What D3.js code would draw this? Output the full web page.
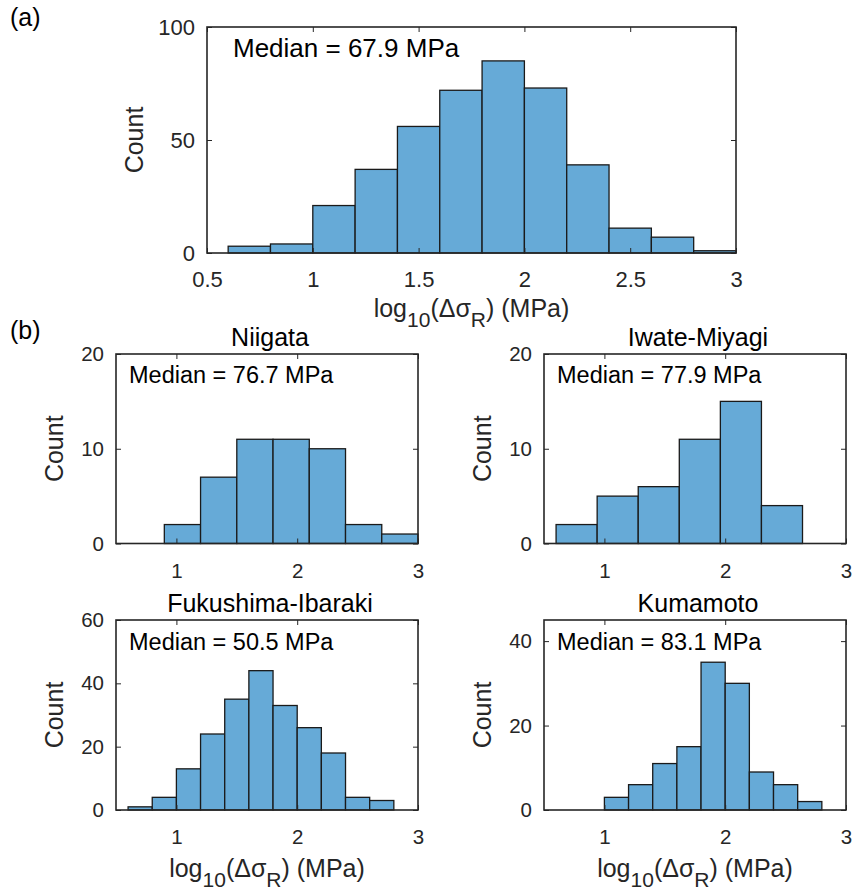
<!DOCTYPE html>
<html>
<head>
<meta charset="utf-8">
<script src="https://cdn.jsdelivr.net/npm/d3@7"></script>
<style>
  html, body { margin: 0; padding: 0; background: #ffffff; }
  svg { display: block; }
  text { font-family: "Liberation Sans", Arial, Helvetica, sans-serif; }
</style>
</head>
<body>
<svg id="chart" width="853" height="895"></svg>
<script>
// ---------------- data ----------------
const allEdges   = [0.6, 0.8, 1.0, 1.2, 1.4, 1.6, 1.8, 2.0, 2.2, 2.4, 2.6, 2.8, 3.0];
const allCounts  = [3, 4, 21, 37, 56, 72, 85, 73, 39, 11, 7, 1];

const niigataEdges  = [0.9, 1.2, 1.5, 1.8, 2.1, 2.4, 2.7, 3.0];
const niigataCounts = [2, 7, 11, 11, 10, 2, 1];

const iwateEdges  = [0.6, 0.94, 1.28, 1.62, 1.96, 2.30, 2.64];
const iwateCounts = [2, 5, 6, 11, 15, 4];

const fukuEdges  = [0.6, 0.8, 1.0, 1.2, 1.4, 1.6, 1.8, 2.0, 2.2, 2.4, 2.6, 2.8];
const fukuCounts = [1, 4, 13, 24, 35, 44, 33, 26, 18, 4, 3];

const kumaEdges  = [1.0, 1.2, 1.4, 1.6, 1.8, 2.0, 2.2, 2.4, 2.6, 2.8];
const kumaCounts = [3, 6, 11, 15, 35, 30, 9, 6, 2];

const topXTicks = [0.5, 1, 1.5, 2, 2.5, 3];
const topXTickLabels = ["0.5", "1", "1.5", "2", "2.5", "3"];
const subXTicks = [1, 2, 3];
const xDomain = [0.5, 3];

const titles  = ["Niigata", "Iwate-Miyagi", "Fukushima-Ibaraki", "Kumamoto"];
const medians = ["Median = 67.9 MPa", "Median = 76.7 MPa", "Median = 77.9 MPa", "Median = 50.5 MPa", "Median = 83.1 MPa"];
const panelLabels = ["(a)", "(b)"];

// ---------------- drawing ----------------
const svg = d3.select("#chart");
const AX = "#262626";
const BAR = "#66AAD7";

function panel(opt) {
  const {left, right, top, bottom, edges, counts, yMax, yTicks, xTicks, xTickLabels,
         tickFs, medianText, medianFs, medianDx, medianDy, title, titleFs, ylabelDx, xlabelDy, labelFs} = opt;
  const g = svg.append("g");
  const x = d3.scaleLinear().domain(xDomain).range([left, right]);
  const y = d3.scaleLinear().domain([0, yMax]).range([bottom, top]);

  const bins = counts.map((c, i) => ({x0: edges[i], x1: edges[i + 1], c}));
  g.selectAll("rect.bar").data(bins).enter().append("rect")
    .attr("class", "bar")
    .attr("x", d => x(d.x0))
    .attr("y", d => y(d.c))
    .attr("width", d => x(d.x1) - x(d.x0))
    .attr("height", d => y(0) - y(d.c))
    .attr("fill", BAR)
    .attr("stroke", "#1a1a1a")
    .attr("stroke-width", 1.3);

  const styleAxis = sel => {
    sel.select(".domain").remove();
    sel.selectAll(".tick line").attr("stroke", AX).attr("stroke-width", 1);
    sel.selectAll(".tick text").attr("fill", AX).style("font-size", tickFs + "px")
      .style("font-family", '"Liberation Sans", Arial, sans-serif');
  };

  const xb = g.append("g").attr("transform", `translate(0,${bottom})`)
    .call(d3.axisBottom(x).tickValues(xTicks)
      .tickFormat((d, i) => xTickLabels ? xTickLabels[i] : d3.format("d")(d))
      .tickSizeInner(-5).tickSizeOuter(0).tickPadding(34 - 0.71 * tickFs));
  styleAxis(xb);
  const xt = g.append("g").attr("transform", `translate(0,${top})`)
    .call(d3.axisTop(x).tickValues(xTicks).tickFormat("").tickSizeInner(-5).tickSizeOuter(0));
  styleAxis(xt);
  const yl = g.append("g").attr("transform", `translate(${left},0)`)
    .call(d3.axisLeft(y).tickValues(yTicks).tickFormat(d3.format("d"))
      .tickSizeInner(-5).tickSizeOuter(0).tickPadding(12));
  styleAxis(yl);
  const yr = g.append("g").attr("transform", `translate(${right},0)`)
    .call(d3.axisRight(y).tickValues(yTicks).tickFormat("").tickSizeInner(-5).tickSizeOuter(0));
  styleAxis(yr);

  g.append("rect")
    .attr("x", left).attr("y", top)
    .attr("width", right - left).attr("height", bottom - top)
    .attr("fill", "none").attr("stroke", AX).attr("stroke-width", 1.6);

  g.append("text")
    .attr("x", left + medianDx).attr("y", top + medianDy)
    .attr("fill", "#000").style("font-size", medianFs + "px")
    .text(medianText);

  if (title) {
    g.append("text")
      .attr("x", (left + right) / 2 + 3).attr("y", top - 8)
      .attr("text-anchor", "middle").attr("fill", "#000")
      .style("font-size", titleFs + "px")
      .text(title);
  }

  // y label
  g.append("text")
    .attr("transform", `translate(${left - ylabelDx},${(top + bottom) / 2}) rotate(-90)`)
    .attr("text-anchor", "middle").attr("fill", AX)
    .style("font-size", labelFs + "px")
    .text("Count");

  // x label
  if (xlabelDy) {
    const t = g.append("text")
      .attr("x", (left + right) / 2).attr("y", bottom + xlabelDy)
      .attr("text-anchor", "middle").attr("fill", AX)
      .style("font-size", labelFs + "px");
    const subFs = Math.round(labelFs * 0.84);
    t.append("tspan").text("log");
    t.append("tspan").attr("dy", 10).style("font-size", subFs + "px").text("10");
    t.append("tspan").attr("dy", -10).text("(Δσ");
    t.append("tspan").attr("dy", 10).style("font-size", subFs + "px").text("R");
    t.append("tspan").attr("dy", -10).text(") (MPa)");
  }
}

// (a) all
panel({left: 207, right: 736, top: 27, bottom: 253, edges: allEdges, counts: allCounts,
  yMax: 100, yTicks: [0, 50, 100], xTicks: topXTicks, xTickLabels: topXTickLabels,
  tickFs: 22, medianText: medians[0], medianFs: 26, medianDx: 26, medianDy: 30,
  title: null, ylabelDx: 64, xlabelDy: 64, labelFs: 25});

// (b) subplots
panel({left: 116, right: 418, top: 354, bottom: 543.5, edges: niigataEdges, counts: niigataCounts,
  yMax: 20, yTicks: [0, 10, 20], xTicks: subXTicks, xTickLabels: null,
  tickFs: 20.5, medianText: medians[1], medianFs: 23.5, medianDx: 13, medianDy: 29,
  title: titles[0], titleFs: 25, ylabelDx: 53, xlabelDy: null, labelFs: 25});

panel({left: 544, right: 846, top: 354, bottom: 543.5, edges: iwateEdges, counts: iwateCounts,
  yMax: 20, yTicks: [0, 10, 20], xTicks: subXTicks, xTickLabels: null,
  tickFs: 20.5, medianText: medians[2], medianFs: 23.5, medianDx: 13, medianDy: 29,
  title: titles[1], titleFs: 25, ylabelDx: 53, xlabelDy: null, labelFs: 25});

panel({left: 116, right: 418, top: 620, bottom: 810, edges: fukuEdges, counts: fukuCounts,
  yMax: 60, yTicks: [0, 20, 40, 60], xTicks: subXTicks, xTickLabels: null,
  tickFs: 20.5, medianText: medians[3], medianFs: 23.5, medianDx: 13, medianDy: 30,
  title: titles[2], titleFs: 25, ylabelDx: 53, xlabelDy: 67, labelFs: 25});

panel({left: 544, right: 846, top: 620, bottom: 810, edges: kumaEdges, counts: kumaCounts,
  yMax: 45, yTicks: [0, 20, 40], xTicks: subXTicks, xTickLabels: null,
  tickFs: 20.5, medianText: medians[4], medianFs: 23.5, medianDx: 13, medianDy: 30,
  title: titles[3], titleFs: 25, ylabelDx: 53, xlabelDy: 67, labelFs: 25});

svg.append("text").attr("x", 10).attr("y", 26).attr("fill", "#000")
  .style("font-size", "25px").text(panelLabels[0]);
svg.append("text").attr("x", 10).attr("y", 339).attr("fill", "#000")
  .style("font-size", "25px").text(panelLabels[1]);
</script>
</body>
</html>
